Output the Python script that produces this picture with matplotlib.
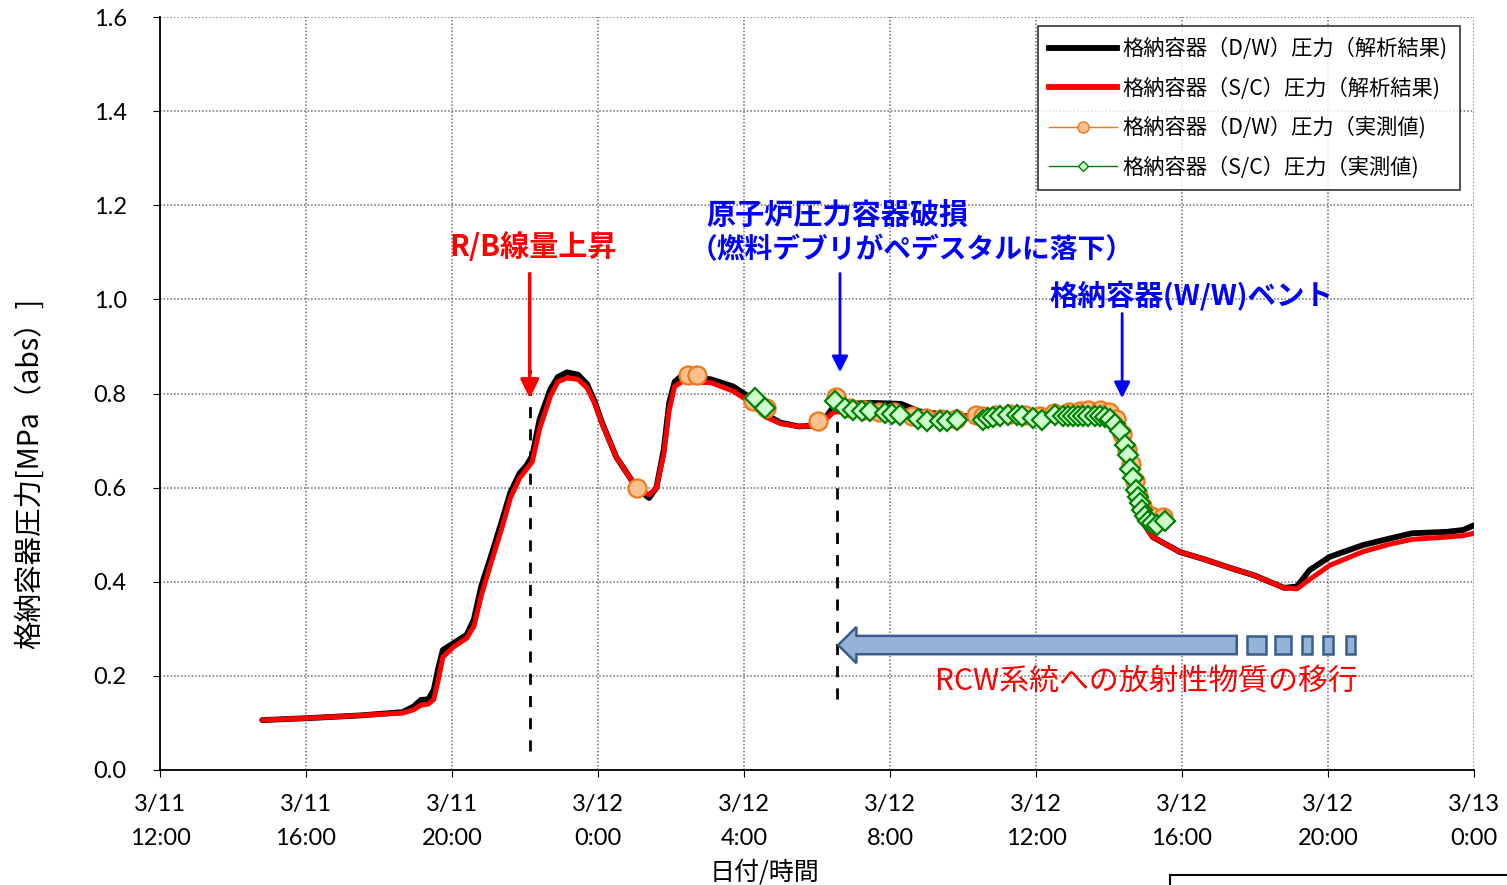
import matplotlib
matplotlib.use('Agg')
import matplotlib.pyplot as plt
from matplotlib.lines import Line2D
from matplotlib.patches import FancyArrow, Rectangle

plt.rcParams['font.family'] = ['Lato', 'Noto Sans CJK JP', 'DejaVu Sans']

# ---------------- data (hours since 3/11 12:00) ----------------
x_ticks = [0, 4, 8, 12, 16, 20, 24, 28, 32, 36]
x_tick_labels = ['3/11\n12:00', '3/11\n16:00', '3/11\n20:00', '3/12\n0:00', '3/12\n4:00',
                 '3/12\n8:00', '3/12\n12:00', '3/12\n16:00', '3/12\n20:00', '3/13\n0:00']
y_ticks = [0.0, 0.2, 0.4, 0.6, 0.8, 1.0, 1.2, 1.4, 1.6]
y_tick_labels = ['0.0', '0.2', '0.4', '0.6', '0.8', '1.0', '1.2', '1.4', '1.6']

dw_calc_h = [2.8, 4.0, 5.5, 6.65, 6.95, 7.15, 7.35, 7.5, 7.62, 7.75, 8.05, 8.4, 8.6, 8.8, 9.05,
             9.35, 9.6, 9.85, 10.05, 10.2, 10.4, 10.7, 10.9, 11.15, 11.45, 11.7, 11.9, 12.1, 12.5,
             12.97, 13.2, 13.4, 13.6, 13.8, 13.95, 14.1, 14.3, 15.1, 15.7, 16.1, 16.6, 17.0, 17.5,
             18.0, 18.2, 18.45, 18.8, 19.5, 20.3, 20.8, 21.5, 22.5, 23.5, 24.5, 25.3, 25.8, 26.1,
             26.35, 26.5, 26.65, 26.9, 27.2, 27.95, 28.6, 29.3, 30.0, 30.8, 31.15, 31.5, 32.05,
             32.96, 33.7, 34.3, 35.25, 35.7, 36.0]
dw_calc_v = [0.106, 0.110, 0.116, 0.123, 0.135, 0.149, 0.150, 0.170, 0.215, 0.255, 0.270, 0.287,
             0.320, 0.390, 0.450, 0.525, 0.590, 0.630, 0.648, 0.668, 0.745, 0.810, 0.835, 0.845,
             0.840, 0.820, 0.785, 0.740, 0.665, 0.610, 0.590, 0.578, 0.600, 0.680, 0.780, 0.825,
             0.838, 0.830, 0.815, 0.795, 0.755, 0.738, 0.730, 0.732, 0.745, 0.772, 0.778, 0.780,
             0.778, 0.762, 0.755, 0.750, 0.748, 0.748, 0.748, 0.745, 0.735, 0.700, 0.650, 0.590,
             0.530, 0.495, 0.463, 0.448, 0.430, 0.413, 0.387, 0.390, 0.425, 0.453, 0.478, 0.492,
             0.503, 0.506, 0.510, 0.520]

sc_calc_h = dw_calc_h
sc_calc_v = [0.106, 0.110, 0.116, 0.121, 0.128, 0.138, 0.140, 0.150, 0.190, 0.240, 0.262, 0.280,
             0.305, 0.370, 0.435, 0.510, 0.578, 0.620, 0.640, 0.655, 0.725, 0.795, 0.825, 0.833,
             0.830, 0.812, 0.780, 0.738, 0.665, 0.610, 0.592, 0.585, 0.600, 0.670, 0.765, 0.815,
             0.825, 0.823, 0.805, 0.785, 0.750, 0.736, 0.730, 0.732, 0.742, 0.760, 0.762, 0.765,
             0.765, 0.755, 0.752, 0.750, 0.748, 0.748, 0.748, 0.745, 0.735, 0.700, 0.650, 0.590,
             0.530, 0.495, 0.463, 0.448, 0.430, 0.413, 0.387, 0.385, 0.405, 0.435, 0.464, 0.480,
             0.490, 0.495, 0.498, 0.503]

dw_meas_h = [13.07, 14.47, 14.71, 16.25, 16.6, 18.03, 18.52, 18.9, 19.3, 19.7, 20.1, 20.6, 21.0,
             21.4, 21.8, 22.36, 22.55, 22.9, 23.3, 23.7, 24.1, 24.5, 24.9, 25.2, 25.42, 25.75,
             26.0, 26.2, 26.35, 26.5, 26.6, 26.7, 26.8, 26.9, 27.0, 27.15, 27.48]
dw_meas_v = [0.600, 0.840, 0.840, 0.785, 0.770, 0.742, 0.793, 0.770, 0.765, 0.760, 0.760, 0.752,
             0.748, 0.745, 0.745, 0.755, 0.752, 0.755, 0.757, 0.755, 0.752, 0.758, 0.760, 0.762,
             0.765, 0.765, 0.760, 0.745, 0.715, 0.680, 0.650, 0.615, 0.585, 0.560, 0.545, 0.540,
             0.538]

sc_meas_h = [16.3, 16.58, 18.49, 18.77, 18.99, 19.23, 19.45, 19.86, 20.05, 20.27, 20.77, 21.01,
             21.37, 21.56, 21.84, 22.55, 22.68, 22.82, 23.01, 23.23, 23.48, 23.62, 23.92, 24.16,
             24.52, 24.74, 24.88, 25.01, 25.15, 25.29, 25.42, 25.62, 25.75, 25.89, 26.03, 26.16,
             26.3, 26.44, 26.52, 26.58, 26.66, 26.74, 26.79, 26.85, 26.9, 26.99, 27.07, 27.18,
             27.32, 27.53]
sc_meas_v = [0.790, 0.770, 0.785, 0.770, 0.765, 0.763, 0.762, 0.758, 0.757, 0.755, 0.745, 0.742,
             0.742, 0.742, 0.743, 0.744, 0.748, 0.750, 0.752, 0.754, 0.755, 0.752, 0.748, 0.743,
             0.755, 0.752, 0.752, 0.752, 0.752, 0.752, 0.752, 0.752, 0.752, 0.750, 0.745, 0.735,
             0.720, 0.690, 0.670, 0.640, 0.620, 0.595, 0.580, 0.567, 0.553, 0.540, 0.530, 0.525,
             0.520, 0.530]

legend_labels = ['格納容器（D/W）圧力（解析結果)', '格納容器（S/C）圧力（解析結果)',
                 '格納容器（D/W）圧力（実測値)', '格納容器（S/C）圧力（実測値)']

# event times (hours)
t_rb = 10.15
t_rpv = 18.58
t_vent = 26.36

CJK = ['Noto Sans CJK JP', 'DejaVu Sans']

# ---------------- figure ----------------
fig = plt.figure(figsize=(15.07, 8.85), dpi=100)
ax = fig.add_axes([160 / 1507, 1 - 770 / 885, (1474 - 160) / 1507, (770 - 17) / 885])

ax.plot(dw_calc_h, dw_calc_v, color='black', lw=4.2, solid_joinstyle='round',
        solid_capstyle='round', zorder=3)
ax.plot(sc_calc_h, sc_calc_v, color='#FF0000', lw=3.6, solid_joinstyle='round',
        solid_capstyle='round', zorder=4)
ax.plot(dw_meas_h, dw_meas_v, linestyle='none', marker='o', ms=13, mfc='#FAC090',
        mec='#F07818', mew=1.6, zorder=5)
ax.plot(sc_meas_h, sc_meas_v, linestyle='none', marker='D', ms=10, mfc='#CCFFCC',
        mec='#008000', mew=1.6, zorder=6)

ax.set_xlim(0, 36)
ax.set_ylim(0, 1.6)
ax.set_xticks(x_ticks)
ax.set_xticklabels(x_tick_labels, fontsize=17, linespacing=1.8)
ax.set_yticks(y_ticks)
ax.set_yticklabels(y_tick_labels, fontsize=17)
ax.tick_params(axis='x', pad=12, length=5, direction='out')
ax.tick_params(axis='y', pad=19, length=5, direction='out')
ax.grid(True, color='#6e6e6e', linestyle=(0, (1, 1.3)), lw=1.1)
ax.set_axisbelow(True)
for s in ['top', 'right']:
    ax.spines[s].set_visible(False)
for s in ['left', 'bottom']:
    ax.spines[s].set_linewidth(1.3)

# dashed event lines
ax.plot([t_rb, t_rb], [0.04, 0.85], color='black', lw=2, linestyle=(0, (4, 4)), zorder=2)
ax.plot([t_rpv - 0.02, t_rpv - 0.02], [0.15, 0.78], color='black', lw=2,
        linestyle=(0, (4, 4)), zorder=2)

# arrows
ax.annotate('', xy=(t_rb - 0.02, 0.79), xytext=(t_rb - 0.02, 1.055),
            arrowprops=dict(arrowstyle='-|>', color='#FF0000', lw=2.5, mutation_scale=28,
                            shrinkA=0, shrinkB=0), zorder=7)
ax.annotate('', xy=(t_rpv + 0.05, 0.845), xytext=(t_rpv + 0.05, 1.055),
            arrowprops=dict(arrowstyle='-|>', color='#0000FF', lw=2, mutation_scale=24,
                            shrinkA=0, shrinkB=0), zorder=7)
ax.annotate('', xy=(t_vent, 0.79), xytext=(t_vent, 0.97),
            arrowprops=dict(arrowstyle='-|>', color='#0000FF', lw=2, mutation_scale=24,
                            shrinkA=0, shrinkB=0), zorder=7)

# texts
ax.text(10.22, 1.111, 'R/B線量上昇', color='#FF0000', fontsize=21, fontweight='bold',
        ha='center', va='center', family=CJK)
ax.text(14.96, 1.179, '原子炉圧力容器破損', color='#0000FF', fontsize=21, fontweight='bold',
        ha='left', va='center', family=CJK)
ax.text(14.5, 1.105, '（燃料デブリがペデスタルに落下）', color='#0000FF', fontsize=20,
        fontweight='bold', ha='left', va='center', family=CJK)
ax.text(24.38, 1.009, '格納容器(W/W)ベント', color='#0000FF', fontsize=20.5, fontweight='bold',
        ha='left', va='center', family=CJK)
ax.text(21.23, 0.19, 'RCW系統への放射性物質の移行', color='#FF0000', fontsize=21.5,
        ha='left', va='center', family=CJK)

# block arrow with trailing squares
arrow_y = 0.2655
ax.add_patch(FancyArrow(29.5, arrow_y, -(29.5 - t_rpv), 0, width=0.039, head_width=0.077,
                        head_length=0.5, length_includes_head=True, fc='#95B3D7',
                        ec='#385D8A', lw=1.8, zorder=6))
for x0, x1 in [(29.78, 30.3), (30.55, 30.99), (31.29, 31.56), (31.86, 32.14), (32.49, 32.74)]:
    ax.add_patch(Rectangle((x0, arrow_y - 0.0195), x1 - x0, 0.039, fc='#95B3D7',
                           ec='#385D8A', lw=1.8, zorder=6))

# legend
handles = [
    Line2D([], [], color='black', lw=4.2),
    Line2D([], [], color='#FF0000', lw=4.2),
    Line2D([], [], color='#F07818', lw=1, marker='o', ms=8, mfc='#FAC090', mec='#F07818'),
    Line2D([], [], color='#008000', lw=1, marker='D', ms=5, mfc='#CCFFCC', mec='#008000'),
]
leg = ax.legend(handles, legend_labels, loc='upper right', bbox_to_anchor=(0.989, 0.988),
                borderaxespad=0, frameon=True, fancybox=False, edgecolor='black',
                prop={'family': CJK, 'size': 15.3},
                handlelength=3.2, handletextpad=0.25, labelspacing=0.8, borderpad=0.55)
leg.get_frame().set_linewidth(1.2)
leg.set_zorder(10)

# axis titles
fig.text(30 / 1507, 1 - 473 / 885, '格納容器圧力[MPa（abs）]', rotation=90, ha='center',
         va='center', fontsize=20.5, family=CJK)
fig.text(765 / 1507, 1 - 873 / 885, '日付/時間', ha='center', va='center', fontsize=18,
         family=CJK)

# partially visible note box at bottom right
fig.patches.append(Rectangle((1170 / 1507, -0.05), 0.3, 0.05 + 10 / 885,
                             transform=fig.transFigure, fill=False, ec='black', lw=1.5))

fig.savefig('out.png', dpi=100)
